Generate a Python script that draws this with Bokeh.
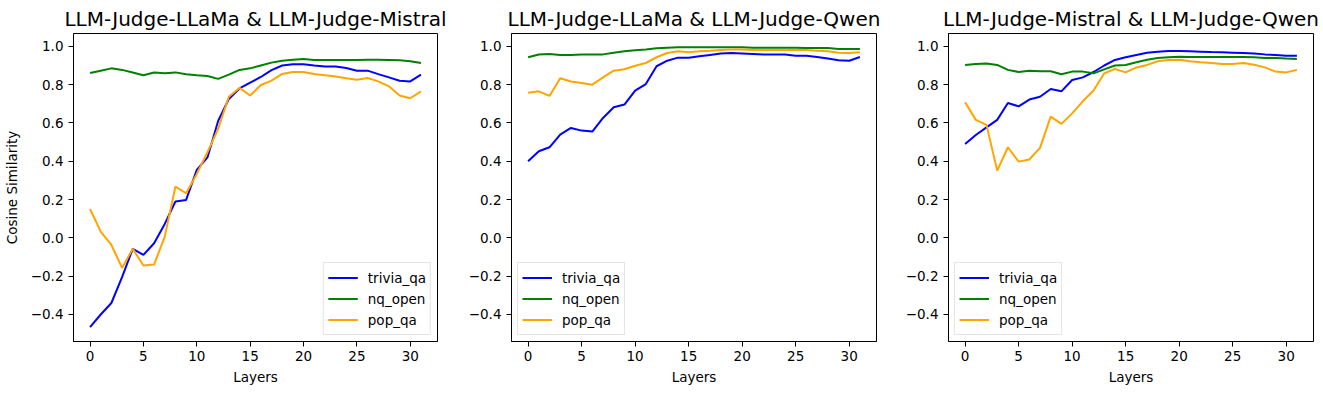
from bokeh.plotting import figure
from bokeh.layouts import row
from bokeh.models import Range1d, FixedTicker, CustomJSTickFormatter, Legend, LegendItem
from bokeh.embed import file_html
from bokeh.resources import INLINE

layers = list(range(32))
series_names = ["trivia_qa", "nq_open", "pop_qa"]
colors = ["#0000ff", "#008000", "#ffa500"]
titles = ["LLM-Judge-LLaMa & LLM-Judge-Mistral",
          "LLM-Judge-LLaMa & LLM-Judge-Qwen",
          "LLM-Judge-Mistral & LLM-Judge-Qwen"]

llama_mistral_trivia = [-0.466, -0.40, -0.34, -0.205, -0.057, -0.089, -0.028, 0.073, 0.19, 0.198,
                        0.355, 0.42, 0.61, 0.725, 0.78, 0.81, 0.84, 0.876, 0.90, 0.907,
                        0.907, 0.90, 0.895, 0.895, 0.887, 0.873, 0.873, 0.855, 0.838, 0.82,
                        0.817, 0.852]
llama_mistral_nq = [0.861, 0.873, 0.885, 0.877, 0.863, 0.849, 0.863, 0.859, 0.864, 0.854,
                    0.849, 0.845, 0.83, 0.852, 0.877, 0.885, 0.90, 0.915, 0.925, 0.93,
                    0.934, 0.929, 0.929, 0.929, 0.929, 0.929, 0.93, 0.93, 0.929, 0.927,
                    0.922, 0.913]
llama_mistral_pop = [0.151, 0.033, -0.037, -0.157, -0.057, -0.144, -0.139, 0.007, 0.268, 0.233,
                     0.334, 0.447, 0.569, 0.737, 0.783, 0.743, 0.798, 0.821, 0.856, 0.866,
                     0.866, 0.856, 0.849, 0.843, 0.833, 0.826, 0.835, 0.817, 0.791, 0.743,
                     0.729, 0.765]

llama_qwen_trivia = [0.40, 0.452, 0.473, 0.539, 0.574, 0.56, 0.555, 0.626, 0.682, 0.696,
                     0.769, 0.803, 0.896, 0.925, 0.941, 0.941, 0.948, 0.955, 0.962, 0.965,
                     0.963, 0.96, 0.957, 0.958, 0.957, 0.951, 0.951, 0.944, 0.936, 0.927,
                     0.925, 0.944]
llama_qwen_nq = [0.943, 0.957, 0.96, 0.955, 0.955, 0.957, 0.957, 0.958, 0.967, 0.974,
                 0.98, 0.984, 0.99, 0.993, 0.995, 0.995, 0.995, 0.995, 0.995, 0.995,
                 0.995, 0.993, 0.993, 0.993, 0.993, 0.993, 0.991, 0.991, 0.991, 0.986,
                 0.986, 0.986]
llama_qwen_pop = [0.758, 0.765, 0.741, 0.833, 0.816, 0.809, 0.80, 0.838, 0.873, 0.88,
                  0.899, 0.913, 0.943, 0.965, 0.974, 0.969, 0.974, 0.977, 0.981, 0.983,
                  0.983, 0.981, 0.981, 0.981, 0.981, 0.981, 0.981, 0.977, 0.974, 0.967,
                  0.965, 0.969]

mistral_qwen_trivia = [0.49, 0.537, 0.577, 0.616, 0.704, 0.687, 0.722, 0.737, 0.777, 0.765,
                       0.824, 0.838, 0.866, 0.90, 0.929, 0.943, 0.955, 0.967, 0.972, 0.976,
                       0.976, 0.974, 0.972, 0.97, 0.969, 0.967, 0.965, 0.963, 0.958, 0.955,
                       0.951, 0.951]
mistral_qwen_nq = [0.903, 0.908, 0.91, 0.903, 0.877, 0.866, 0.873, 0.87, 0.87, 0.854,
                   0.868, 0.868, 0.859, 0.88, 0.90, 0.903, 0.917, 0.93, 0.939, 0.943,
                   0.946, 0.944, 0.944, 0.944, 0.944, 0.944, 0.944, 0.943, 0.939, 0.939,
                   0.936, 0.934]
mistral_qwen_pop = [0.708, 0.616, 0.59, 0.351, 0.473, 0.398, 0.409, 0.47, 0.633, 0.595,
                    0.65, 0.713, 0.769, 0.859, 0.882, 0.864, 0.89, 0.903, 0.922, 0.929,
                    0.93, 0.922, 0.917, 0.913, 0.908, 0.908, 0.913, 0.904, 0.89, 0.868,
                    0.864, 0.877]

x_ticks = [0, 5, 10, 15, 20, 25, 30]
y_ticks = [-0.4, -0.2, 0.0, 0.2, 0.4, 0.6, 0.8, 1.0]

panels = [
    [llama_mistral_trivia, llama_mistral_nq, llama_mistral_pop],
    [llama_qwen_trivia, llama_qwen_nq, llama_qwen_pop],
    [mistral_qwen_trivia, mistral_qwen_nq, mistral_qwen_pop],
]
legend_locs = ["bottom_right", "bottom_left", "bottom_left"]
# (width, left border, right border)
geoms = [(447, 73, 10), (437, 64, 8), (437, 64, 8)]

FONT = "DejaVu Sans"
fmt = CustomJSTickFormatter(code="""
if (Math.abs(tick) < 1e-9) { return '0.0'; }
return tick.toFixed(1).replace('-', '\u2212');
""")

figs = []
for k in range(3):
    w, bl, br = geoms[k]
    p = figure(width=w, height=392, output_backend="svg", toolbar_location=None,
               x_range=Range1d(-1.55, 32.55), y_range=Range1d(-0.541, 1.067),
               min_border_left=bl, min_border_right=br, min_border_top=33,
               min_border_bottom=51)
    p.title.text = titles[k]
    p.title.align = "center"
    p.title.text_font = FONT
    p.title.text_font_size = "20px"
    p.title.text_font_style = "normal"
    p.title.text_color = "black"
    p.title.offset = 0
    p.title.standoff = 5
    p.xgrid.visible = False
    p.ygrid.visible = False
    p.outline_line_color = "black"
    p.outline_line_width = 1
    p.outline_line_alpha = 1
    p.background_fill_color = "white"
    p.border_fill_color = "white"

    for ax in (p.xaxis[0], p.yaxis[0]):
        ax.major_label_text_font = FONT
        ax.major_label_text_font_size = "13.5px"
        ax.major_label_text_color = "black"
        ax.axis_label_text_font = FONT
        ax.axis_label_text_font_size = "13.5px"
        ax.axis_label_text_font_style = "normal"
        ax.axis_label_text_color = "black"
        ax.major_tick_out = 5
        ax.major_tick_in = 0
        ax.minor_tick_out = 0
        ax.minor_tick_in = 0
        ax.axis_line_color = "black"
        ax.major_tick_line_color = "black"
    p.xaxis.ticker = FixedTicker(ticks=x_ticks)
    p.yaxis.ticker = FixedTicker(ticks=y_ticks)
    p.yaxis.formatter = fmt
    p.xaxis.axis_label = "Layers"
    p.xaxis.major_label_standoff = 4
    p.xaxis.axis_label_standoff = 5
    p.yaxis.major_label_standoff = 5
    if k == 0:
        p.yaxis.axis_label = "Cosine Similarity"
        p.yaxis.axis_label_standoff = 8

    items = []
    for s in range(3):
        r = p.line(layers, panels[k][s], line_color=colors[s], line_width=2)
        items.append(LegendItem(label=series_names[s], renderers=[r]))
    leg = Legend(items=items, location=legend_locs[k])
    leg.label_text_font = FONT
    leg.label_text_font_size = "13.5px"
    leg.label_text_color = "black"
    leg.border_line_color = "#cccccc"
    leg.border_line_width = 1
    leg.background_fill_alpha = 0.8
    leg.glyph_width = 30
    leg.glyph_height = 21
    leg.label_height = 21
    leg.spacing = 0
    leg.padding = 4
    leg.margin = 6
    leg.label_standoff = 10
    p.add_layout(leg, "center")
    figs.append(p)

layout = row(*figs)
open("out.html", "w").write(file_html(layout, INLINE))
